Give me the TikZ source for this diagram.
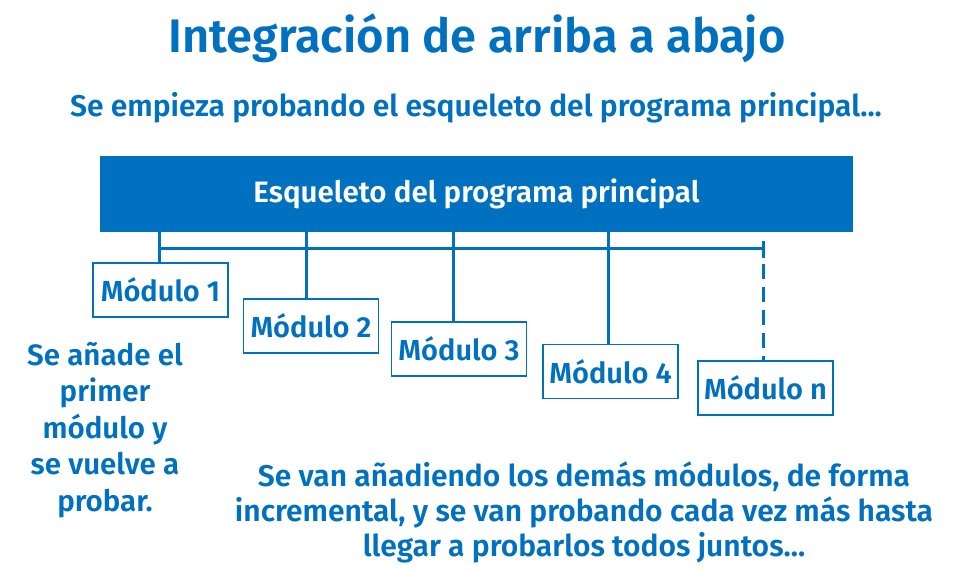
\documentclass[tikz,border=0pt]{standalone}
\usepackage{fontspec}
\setmainfont{Fira Sans}[BoldFont={Fira Sans SemiBold}]
\definecolor{mblue}{HTML}{0070C0}
\begin{document}
\begin{tikzpicture}[x=1pt,y=-1pt,
  every node/.style={font=\bfseries, text=mblue},
  modbox/.style={draw=mblue, line width=1.6pt, fill=white, minimum width=135pt, minimum height=54pt, inner sep=0pt, font=\fontsize{29}{32}\selectfont\bfseries},
  conn/.style={draw=mblue, line width=3pt},
  txt/.style={align=center, text=mblue}]
\useasboundingbox (0,0) rectangle (958,570);
\node[txt, font=\fontsize{47}{52}\selectfont\bfseries] (title) at (477,38) {Integración de arriba a abajo};
\node[txt, font=\fontsize{30}{34}\selectfont\bfseries] (sub) at (476,108) {Se empieza probando el esqueleto del programa principal...};
\node[fill=mblue, minimum width=753pt, minimum height=76pt, inner sep=0pt, text=white, font=\fontsize{29.5}{32}\selectfont\bfseries] (head) at (476.5,194) {Esqueleto del programa principal};
\node[modbox] (m1) at (160.5,290) {Módulo 1};
\node[modbox] (m2) at (311,326) {Módulo 2};
\node[modbox] (m3) at (459,349) {Módulo 3};
\node[modbox] (m4) at (610.5,371.5) {Módulo 4};
\node[modbox] (mn) at (765.5,388) {Módulo n};
\coordinate (b1) at (159,248);
\coordinate (b2) at (306,248);
\coordinate (b3) at (453,248);
\coordinate (b4) at (608,248);
\coordinate (b5) at (763,248);
\draw[conn] (b1) -- (b5);
\draw[conn] (b1 |- head.south) -- (b1 |- m1.north);
\draw[conn] (b2 |- head.south) -- (b2 |- m2.north);
\draw[conn] (b3 |- head.south) -- (b3 |- m3.north);
\draw[conn] (b4 |- head.south) -- (b4 |- m4.north);
\draw[conn] ([yshift=-10pt]b5) -- ([yshift=2pt]b5);
\draw[conn, dash pattern=on 15pt off 8pt] ([yshift=7pt]b5) -- (b5 |- mn.north);
\node[txt, font=\fontsize{29.5}{36.5}\selectfont\bfseries] (left) at (105,430) {Se añade el\\primer\\módulo y\\se vuelve a\\probar.};
\node[txt, font=\fontsize{30}{35}\selectfont\bfseries] (bottom) at (584,512) {Se van añadiendo los demás módulos, de forma\\incremental, y se van probando cada vez más hasta\\llegar a probarlos todos juntos...};
\end{tikzpicture}
\end{document}
